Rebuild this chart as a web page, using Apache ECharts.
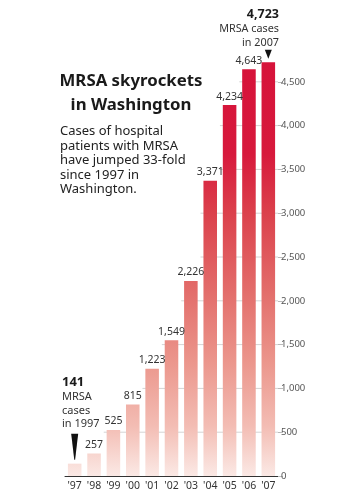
<!DOCTYPE html>
<html>
  <head>
    <meta charset="utf-8" />
    <title>MRSA skyrockets in Washington</title>
    <script src="https://cdn.jsdelivr.net/npm/echarts@6.0.0/dist/echarts.min.js"></script>
    <style>
      html, body { margin: 0; padding: 0; background: #fff; }
      #main { width: 350px; height: 500px; }
    </style>
  </head>
  <body>
    <div id="main"></div>

    <script type="text/javascript">
      // data
      const years = ["'97", "'98", "'99", "'00", "'01", "'02", "'03", "'04", "'05", "'06", "'07"]
      const cases = [141, 257, 525, 815, 1223, 1549, 2226, 3371, 4234, 4643, 4723]
      const yTicks = [0, 500, 1000, 1500, 2000, 2500, 3000, 3500, 4000, 4500]

      const FONT = '"Noto Sans", sans-serif'
      const gridTop = 38
      const gridBottom = 24
      const baseY = 500 - gridBottom

      // gridlines only start where a bar first passes the tick value
      const gridData = yTicks.slice(1).map((v) => [cases.findIndex((c) => c > v), v])

      const chart = echarts.init(document.getElementById('main'))

      // one gradient for every bar, fixed to the value axis (pale at 0, full red up top)
      const barFill = new echarts.graphic.LinearGradient(0, baseY, 0, 63, [
        { offset: 0, color: '#fbe9e5' },
        { offset: 0.12, color: '#f3bdb4' },
        { offset: 0.28, color: '#eb958b' },
        { offset: 0.44, color: '#e36f6c' },
        { offset: 0.64, color: '#db404b' },
        { offset: 0.78, color: '#d7193c' },
        { offset: 1, color: '#d6133a' },
      ], true)

      const option = {
        animation: false,
        grid: { left: 65, right: 72, top: gridTop, bottom: gridBottom },
        xAxis: {
          type: 'category',
          data: years,
          axisLine: { lineStyle: { color: '#333', width: 1 } },
          axisTick: { show: false },
          axisLabel: { color: '#333', fontSize: 10.5, fontFamily: FONT, margin: 5 },
        },
        yAxis: {
          type: 'value',
          position: 'right',
          min: 0,
          max: 5000,
          interval: 500,
          axisLine: { show: false },
          axisTick: { show: true, length: 5, customValues: yTicks, lineStyle: { color: '#bbb' } },
          splitLine: { show: false },
          axisLabel: {
            color: '#555',
            fontSize: 9.5,
            fontFamily: FONT,
            margin: 3,
            customValues: yTicks,
            formatter: (v) => v.toLocaleString('en-US'),
          },
        },
        series: [
          {
            type: 'custom',
            z: 1,
            data: gridData,
            renderItem: (params, api) => {
              const p = api.coord([api.value(0), api.value(1)])
              const band = api.size([1, 0])[0]
              const cs = params.coordSys
              return {
                type: 'line',
                shape: { x1: p[0] - band / 2, y1: p[1], x2: cs.x + cs.width, y2: p[1] },
                style: { stroke: '#d4d4d4', lineWidth: 1 },
              }
            },
          },
          {
            type: 'bar',
            z: 2,
            data: cases,
            barWidth: '70%',
            itemStyle: { color: barFill },
            label: {
              show: true,
              position: 'top',
              distance: 3,
              color: '#333',
              fontSize: 10.5,
              fontFamily: FONT,
              formatter: (p) =>
                p.dataIndex === 0 || p.dataIndex === cases.length - 1 ? '' : p.value.toLocaleString('en-US'),
            },
            markPoint: {
              silent: true,
              label: { show: false },
              itemStyle: { color: '#111' },
              data: [
                {
                  coord: [0, cases[0]],
                  symbol: 'path://M0,0 L10,0 L5.6,40 L4.4,40 Z',
                  symbolSize: [7, 26],
                  symbolKeepAspect: false,
                  symbolOffset: [0, -17],
                },
                {
                  coord: [cases.length - 1, cases[cases.length - 1]],
                  symbol: 'path://M0,0 L10,0 L5,11 Z',
                  symbolSize: [7, 9],
                  symbolKeepAspect: false,
                  symbolOffset: [0, -8],
                },
              ],
            },
          },
        ],
        graphic: [
          {
            type: 'text',
            x: 131,
            y: 81,
            style: { text: 'MRSA skyrockets', align: 'center', verticalAlign: 'middle', font: 'bold 16.8px ' + FONT, fill: '#1a1a1a' },
          },
          {
            type: 'text',
            x: 131,
            y: 105,
            style: { text: 'in Washington', align: 'center', verticalAlign: 'middle', font: 'bold 16.8px ' + FONT, fill: '#1a1a1a' },
          },
          {
            type: 'text',
            x: 60,
            y: 124.5,
            style: {
              text: 'Cases of hospital\npatients with MRSA\nhave jumped 33-fold\nsince 1997 in\nWashington.',
              verticalAlign: 'top',
              font: '13px ' + FONT,
              lineHeight: 14.4,
              fill: '#222',
            },
          },
          {
            type: 'text',
            x: 62,
            y: 382,
            style: { text: '141', verticalAlign: 'middle', font: 'bold 13px ' + FONT, fill: '#1a1a1a' },
          },
          {
            type: 'text',
            x: 62,
            y: 390.5,
            style: { text: 'MRSA\ncases\nin 1997', verticalAlign: 'top', font: '11px ' + FONT, lineHeight: 13.5, fill: '#333' },
          },
          {
            type: 'text',
            x: 279,
            y: 14,
            style: { text: '4,723', align: 'right', verticalAlign: 'middle', font: 'bold 12.5px ' + FONT, fill: '#1a1a1a' },
          },
          {
            type: 'text',
            x: 279,
            y: 21.5,
            style: { text: 'MRSA cases\nin 2007', align: 'right', verticalAlign: 'top', font: '10.8px ' + FONT, lineHeight: 14.5, fill: '#333' },
          },
        ],
      }

      chart.setOption(option)
    </script>
  </body>
</html>
